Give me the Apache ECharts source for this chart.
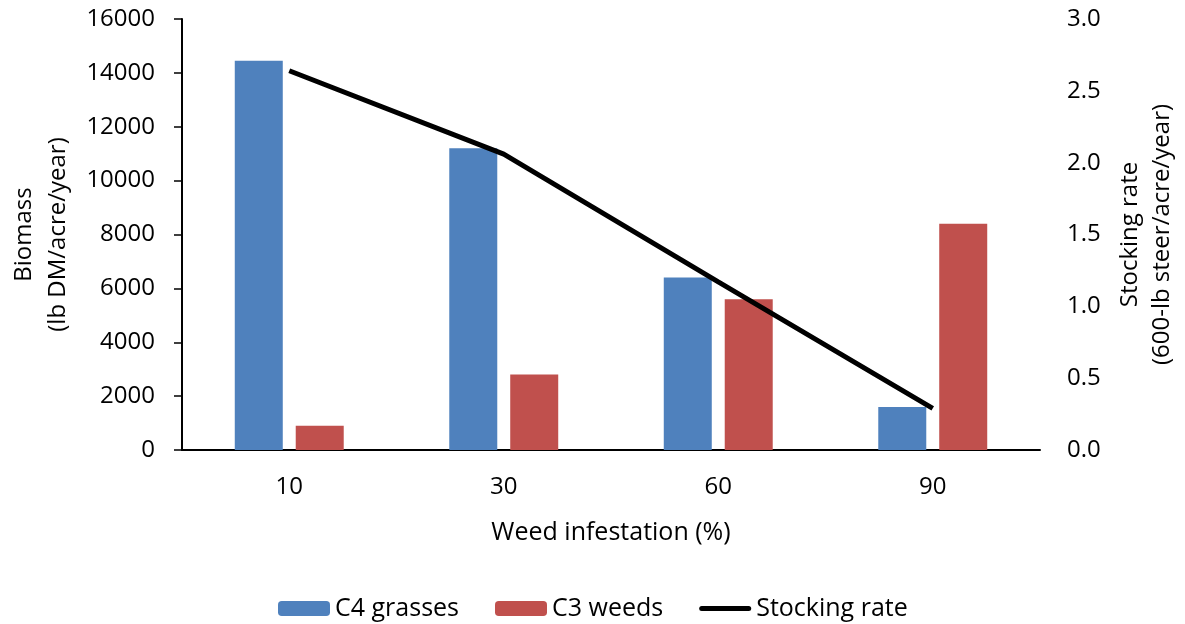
<!DOCTYPE html>
<html>
<head>
<meta charset="utf-8">
<script src="https://cdn.jsdelivr.net/npm/echarts@6/dist/echarts.min.js"></script>
<style>html,body{margin:0;padding:0;background:#fff}#c{width:1185px;height:624px}</style>
</head>
<body>
<div id="c"></div>
<script>
var categories = ['10', '30', '60', '90'];
var c4Grasses = [14450, 11200, 6400, 1600];
var c3Weeds = [900, 2800, 5600, 8400];
var stockingRate = [2.64, 2.06, 1.17, 0.29];

var FONT = 'Open Sans';
var chart = echarts.init(document.getElementById('c'));
chart.setOption({
  animation: false,
  textStyle: { fontFamily: FONT, color: '#000' },
  grid: { left: 182, right: 145, top: 19, bottom: 174, containLabel: false, outerBoundsMode: 'none' },
  legend: {
    top: 591,
    left: 273,
    itemWidth: 52,
    itemHeight: 15,
    itemGap: 36,
    textStyle: { fontFamily: FONT, fontSize: 25, color: '#000' },
    data: [
      { name: 'C4 grasses' },
      { name: 'C3 weeds' },
      { name: 'Stocking rate', icon: 'path://M2.5,0 L49.5,0 A2.5,2.5 0 0 1 49.5,5 L2.5,5 A2.5,2.5 0 0 1 2.5,0 Z', itemStyle: { color: '#000' } }
    ]
  },
  xAxis: {
    type: 'category',
    data: categories,
    name: 'Weed infestation (%)',
    nameLocation: 'middle',
    nameGap: 70,
    nameTextStyle: { fontFamily: FONT, fontSize: 25, color: '#000' },
    axisLine: { lineStyle: { color: '#000', width: 2 } },
    axisTick: { show: false },
    axisLabel: { margin: 25, fontSize: 24, color: '#000', fontFamily: FONT }
  },
  yAxis: [{
    type: 'value',
    min: 0, max: 16000, interval: 2000,
    name: 'Biomass\n(lb DM/acre/year)',
    nameLocation: 'middle',
    nameGap: 107,
    nameRotate: 90,
    nameTextStyle: { fontFamily: FONT, fontSize: 24, color: '#000', lineHeight: 34 },
    axisLine: { show: true, lineStyle: { color: '#000', width: 2 } },
    axisTick: { show: true, inside: false, length: 8, lineStyle: { color: '#000', width: 1.5 } },
    axisLabel: { margin: 27, fontSize: 24, color: '#000', fontFamily: FONT,
      formatter: function (v) { return String(v); } },
    splitLine: { show: false }
  }, {
    type: 'value',
    min: 0, max: 3, interval: 0.5,
    position: 'right',
    name: 'Stocking rate\n(600-lb steer/acre/year)',
    nameLocation: 'middle',
    nameGap: 74,
    nameRotate: 90,
    nameTextStyle: { fontFamily: FONT, fontSize: 24, color: '#000', lineHeight: 32 },
    axisLine: { show: false },
    axisTick: { show: false },
    axisLabel: { margin: 27, fontSize: 24, color: '#000', fontFamily: FONT,
      formatter: function (v) { return v.toFixed(1); } },
    splitLine: { show: false }
  }],
  series: [{
    name: 'C4 grasses',
    type: 'bar',
    data: c4Grasses,
    barWidth: 48,
    barGap: '27%',
    itemStyle: { color: '#4F81BD' }
  }, {
    name: 'C3 weeds',
    type: 'bar',
    data: c3Weeds,
    barWidth: 48,
    barGap: '27%',
    itemStyle: { color: '#C0504D' }
  }, {
    name: 'Stocking rate',
    type: 'line',
    yAxisIndex: 1,
    data: stockingRate,
    symbol: 'none',
    lineStyle: { color: '#000', width: 5 },
    itemStyle: { color: '#000' },
    z: 5
  }]
});
</script>
</body>
</html>
